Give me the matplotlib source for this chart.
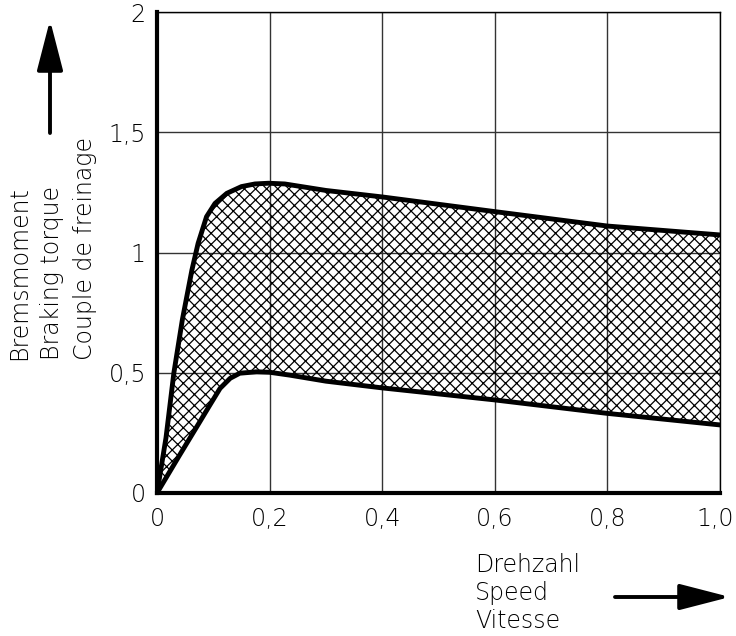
import matplotlib.pyplot as plt
import matplotlib.transforms as mtransforms
import numpy as np

# Drehzahl (speed), relative
x_oben = [0, 0.016, 0.03, 0.045, 0.062, 0.073, 0.088, 0.103, 0.124, 0.15, 0.174, 0.198, 0.227, 0.3, 0.4, 0.6, 0.8, 1.0]
y_oben = [0, 0.23, 0.5, 0.72, 0.927, 1.038, 1.149, 1.204, 1.246, 1.274, 1.285, 1.288, 1.285, 1.258, 1.231, 1.17, 1.11, 1.073]

x_unten = [0, 0.04, 0.076, 0.094, 0.112, 0.13, 0.147, 0.177, 0.2, 0.236, 0.3, 0.4, 0.6, 0.8, 1.0]
y_unten = [0, 0.157, 0.296, 0.366, 0.435, 0.477, 0.498, 0.504, 0.502, 0.49, 0.465, 0.437, 0.387, 0.331, 0.283]

xticks = [0, 0.2, 0.4, 0.6, 0.8, 1.0]
xlabels = ["0", "0,2", "0,4", "0,6", "0,8", "1,0"]
yticks = [0, 0.5, 1, 1.5, 2]
ylabels = ["0", "0,5", "1", "1,5", "2"]

plt.rcParams['font.family'] = ['DejaVu Sans']
plt.rcParams['font.weight'] = 'light'
plt.rcParams['hatch.linewidth'] = 0.9

fig = plt.figure(figsize=(7.36, 6.36), dpi=100)
ax = fig.add_axes([157/736, 1-493/636, (720-157)/736, (493-12)/636])

# bereich zwischen den kurven schraffiert
xs = np.union1d(x_oben, x_unten)
ax.fill_between(xs, np.interp(xs, x_unten, y_unten), np.interp(xs, x_oben, y_oben),
                facecolor='none', edgecolor='black', hatch='xxx', linewidth=0, zorder=2)
ax.plot(x_oben, y_oben, color='black', lw=3.5, solid_joinstyle='round', solid_capstyle='round', zorder=3)
ax.plot(x_unten, y_unten, color='black', lw=3.5, solid_joinstyle='round', solid_capstyle='round', zorder=3)

ax.set_xlim(0, 1.0)
ax.set_ylim(0, 2)
ax.set_xticks(xticks, xlabels)
ax.set_yticks(yticks, ylabels)
ax.tick_params(length=0, labelsize=17)
ax.tick_params(axis='x', pad=10)
ax.tick_params(axis='y', pad=8)
ax.grid(True, color='#333333', lw=1)
ax.set_axisbelow(True)

# letzte beschriftung etwas nach links, sonst abgeschnitten
lab = ax.get_xticklabels()[-1]
lab.set_transform(lab.get_transform() + mtransforms.ScaledTranslation(-5/100, 0, fig.dpi_scale_trans))

for s in ['left', 'bottom']:
    ax.spines[s].set_linewidth(3)
for s in ['top', 'right']:
    ax.spines[s].set_linewidth(1)

fig.text(52/736, 1-360/636, "Bremsmoment\nBraking torque\nCouple de freinage",
         rotation=90, ha='center', va='bottom', multialignment='left',
         linespacing=1.45, fontsize=17)
fig.text(475/736, 1-593/636, "Drehzahl\nSpeed\nVitesse",
         ha='left', va='center', linespacing=1.2, fontsize=17)

# pfeile
ax.annotate("", xy=(50, 636-20), xytext=(50, 636-133), xycoords='figure pixels',
            arrowprops=dict(arrowstyle='-|>,head_length=1.55,head_width=0.4',
                            mutation_scale=20, lw=2.8, color='black', shrinkA=0, shrinkB=0))
ax.annotate("", xy=(730, 636-597), xytext=(615, 636-597), xycoords='figure pixels',
            arrowprops=dict(arrowstyle='-|>,head_length=1.55,head_width=0.4',
                            mutation_scale=20, lw=2.8, color='black', shrinkA=0, shrinkB=0))

fig.savefig("out.png", dpi=100)
